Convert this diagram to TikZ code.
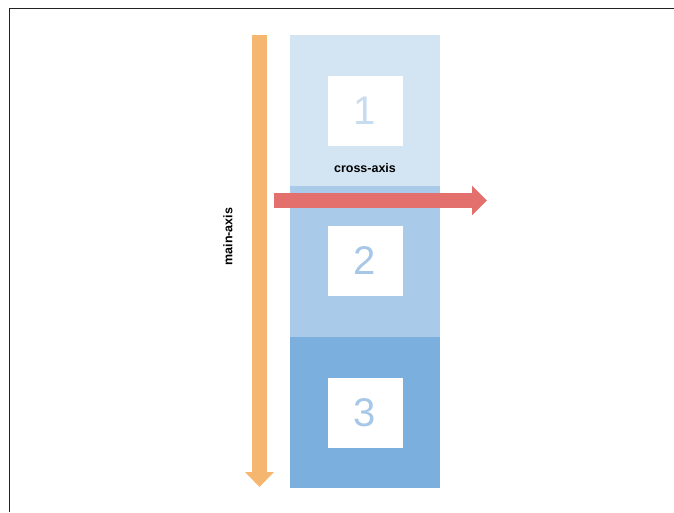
\documentclass[tikz,border=0pt]{standalone}
\usepackage{fontspec}
\setmainfont{Liberation Sans}
\usepackage{tikz}
\usetikzlibrary{calc}
\usetikzlibrary{positioning}
\usetikzlibrary{arrows.meta}

\definecolor{itemA}{HTML}{D3E4F3}
\definecolor{itemB}{HTML}{A9CBE9}
\definecolor{itemC}{HTML}{7AAFDE}
\definecolor{numA}{HTML}{C8DCF0}
\definecolor{numB}{HTML}{A6C7E7}
\definecolor{mainax}{HTML}{F5B66F}
\definecolor{crossax}{HTML}{E4706E}
\definecolor{frame}{HTML}{222222}

\begin{document}
\begin{tikzpicture}[x=1pt,y=-1pt]
\tikzstyle{item}=[rectangle,inner sep=0,minimum width=150pt,minimum height=151pt]
\tikzstyle{square}=[rectangle,inner sep=0,minimum width=75pt,minimum height=70pt,fill=white,font=\fontsize{40}{40}\selectfont]
\tikzstyle{axis}=[line width=15pt,line cap=butt]
\tikzstyle{lbl}=[font=\fontsize{12.5}{14}\selectfont\bfseries,text=black]
\useasboundingbox (0,0) rectangle (674,512);
\draw[frame,line width=1.5pt] (9.5,512) -- (9.5,8.5) -- (674,8.5);
% the three items
\node[item,fill=itemA] at(365, 110.5) (i1) {};
\node[item,fill=itemB] at(365, 261.5) (i2) {};
\node[item,fill=itemC] at(365, 412) (i3) {};
\node[square,text=numA] at(i1.center) (s1) {1};
\node[square,text=numB] at(365, 261) (s2) {2};
\node[square,text=numB] at(365, 412.5) (s3) {3};
% axes
\coordinate (mtop) at(259.5, 35);
\coordinate (mbot) at(259.5, 487);
\coordinate (cleft) at(274, 200.5);
\coordinate (cright) at(487, 200.5);
\draw[axis,mainax,-{Triangle[width=28pt,length=15pt]}] (mtop) -- (mbot);
\draw[axis,crossax,-{Triangle[width=29pt,length=15pt]}] (cleft) -- (cright);
\node[lbl] at(365, 168) (cl) {cross-axis};
\node[lbl,rotate=90] at(228, 236.5) (ml) {main-axis};
\end{tikzpicture}
\end{document}
